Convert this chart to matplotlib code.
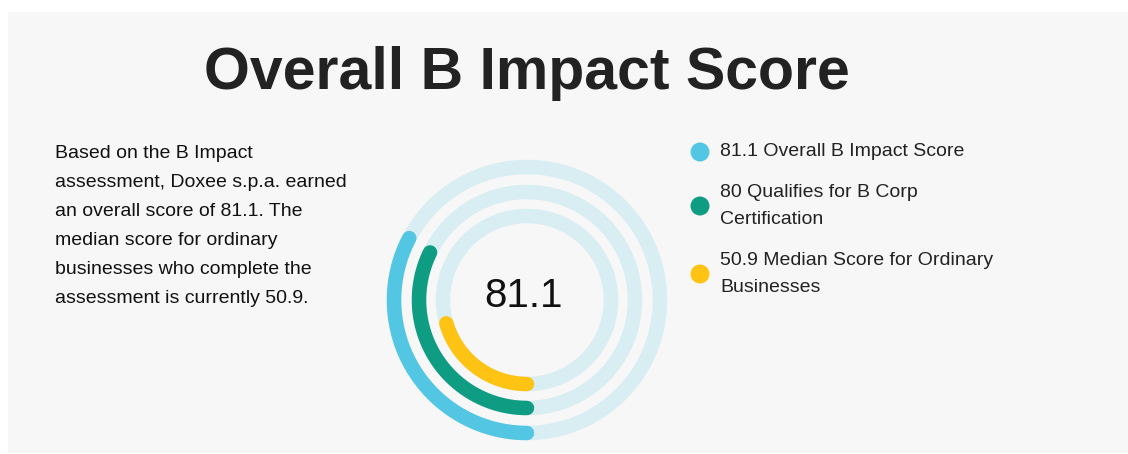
import numpy as np
import matplotlib
matplotlib.use('Agg')
import matplotlib.pyplot as plt
from matplotlib.patches import Rectangle, Circle

# Scores shown on the rings (outer -> inner)
labels = ['Overall B Impact Score', 'Qualifies for B Corp\nCertification',
          'Median Score for Ordinary\nBusinesses']
values = [81.1, 80, 50.9]
colors = ['#52c6e2', '#0e9c82', '#ffc314']
scale_max = 248  # value that would close a full ring
main_score = '81.1'
blurb = ('Based on the B Impact\nassessment, Doxee s.p.a. earned\n'
         'an overall score of 81.1. The\nmedian score for ordinary\n'
         'businesses who complete the\nassessment is currently 50.9.')

W, H = 1128, 454
plt.rcParams['font.family'] = ['Liberation Sans', 'DejaVu Sans']

fig = plt.figure(figsize=(W / 100, H / 100), dpi=100)
fig.patch.set_facecolor('white')
ax = fig.add_axes([0, 0, 1, 1])
ax.set_xlim(0, W)
ax.set_ylim(H, 0)
ax.axis('off')

# grey panel
ax.add_patch(Rectangle((8, 12), W - 8, 441, facecolor='#f7f7f7', edgecolor='none'))

ax.text(527, 89, 'Overall B Impact Score', ha='center', va='baseline',
        fontsize=42.5, fontweight='bold', color='#222222')

ax.text(55, 226, blurb, ha='left', va='center', fontsize=14, color='#111111',
        linespacing=1.93)

# rings
cx, cy = 527, 300
radii = [133, 108, 84]
lw = 14.5 * 0.72
t = np.linspace(0, 2 * np.pi, 400)
for r, v, c in zip(radii, values, colors):
    ax.plot(cx + r * np.cos(t), cy + r * np.sin(t), color='#d9eef3', lw=lw,
            solid_capstyle='butt')
    sweep = np.deg2rad(v / scale_max * 360)
    # start at the bottom and run clockwise (on screen) through the left side
    a = np.linspace(np.pi / 2, np.pi / 2 + sweep, 200)
    ax.plot(cx + r * np.cos(a), cy + r * np.sin(a), color=c, lw=lw,
            solid_capstyle='round')

ax.text(cx - 3, 296, main_score, ha='center', va='center', fontsize=29,
        color='#111111')

# legend
leg_y = [152, 206, 274]
for y, v, lab, c in zip(leg_y, values, labels, colors):
    ax.add_patch(Circle((700, y), 9.5, facecolor=c, edgecolor='none'))
    ax.text(720, y, f'{v:g} {lab}', ha='left', va='center',
            fontsize=14, color='#222222', linespacing=1.81)

fig.savefig('out.png', dpi=100, facecolor=fig.get_facecolor())
